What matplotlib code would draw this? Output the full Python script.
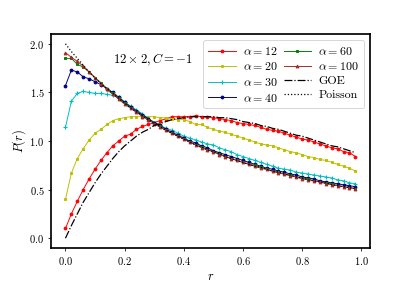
import matplotlib
matplotlib.use('Agg')
import matplotlib.pyplot as plt

plt.rcParams['font.family'] = 'serif'
plt.rcParams['font.serif'] = ['cmr10', 'DejaVu Serif']
plt.rcParams['mathtext.fontset'] = 'cm'
plt.rcParams['axes.formatter.use_mathtext'] = True
plt.rcParams['axes.unicode_minus'] = False

# r bins
r = [0.00, 0.02, 0.04, 0.06, 0.08, 0.10, 0.12, 0.14, 0.16, 0.18,
     0.20, 0.22, 0.24, 0.26, 0.28, 0.30, 0.32, 0.34, 0.36, 0.38,
     0.40, 0.42, 0.44, 0.46, 0.48, 0.50, 0.52, 0.54, 0.56, 0.58,
     0.60, 0.62, 0.64, 0.66, 0.68, 0.70, 0.72, 0.74, 0.76, 0.78,
     0.80, 0.82, 0.84, 0.86, 0.88, 0.90, 0.92, 0.94, 0.96, 0.98]

p12 = [0.10, 0.25, 0.38, 0.50, 0.61, 0.71, 0.80, 0.88, 0.95, 1.00,
       1.05, 1.07, 1.12, 1.15, 1.17, 1.19, 1.21, 1.23, 1.25, 1.25,
       1.25, 1.25, 1.26, 1.25, 1.25, 1.24, 1.23, 1.22, 1.21, 1.19,
       1.18, 1.17, 1.16, 1.14, 1.12, 1.11, 1.10, 1.08, 1.06, 1.04,
       1.02, 1.01, 0.99, 0.97, 0.95, 0.93, 0.92, 0.89, 0.88, 0.84]

p20 = [0.40, 0.67, 0.82, 0.92, 1.01, 1.08, 1.12, 1.17, 1.21, 1.23,
       1.24, 1.25, 1.25, 1.25, 1.25, 1.25, 1.24, 1.24, 1.23, 1.22,
       1.22, 1.20, 1.17, 1.17, 1.14, 1.12, 1.10, 1.09, 1.07, 1.05,
       1.03, 1.01, 0.99, 0.97, 0.96, 0.95, 0.93, 0.91, 0.89, 0.88,
       0.86, 0.84, 0.83, 0.81, 0.80, 0.78, 0.76, 0.74, 0.72, 0.69]

p30 = [1.14, 1.41, 1.49, 1.51, 1.50, 1.49, 1.49, 1.48, 1.47, 1.45,
       1.40, 1.36, 1.32, 1.28, 1.23, 1.19, 1.16, 1.13, 1.11, 1.08,
       1.05, 1.03, 1.01, 0.99, 0.97, 0.96, 0.93, 0.91, 0.89, 0.86,
       0.84, 0.82, 0.80, 0.78, 0.76, 0.74, 0.72, 0.71, 0.70, 0.68,
       0.67, 0.66, 0.65, 0.64, 0.63, 0.62, 0.60, 0.59, 0.57, 0.56]

p40 = [1.57, 1.73, 1.71, 1.66, 1.64, 1.61, 1.58, 1.54, 1.50, 1.45,
       1.40, 1.35, 1.31, 1.27, 1.23, 1.19, 1.16, 1.12, 1.09, 1.06,
       1.03, 1.00, 0.98, 0.95, 0.93, 0.90, 0.88, 0.86, 0.84, 0.82,
       0.80, 0.78, 0.76, 0.74, 0.72, 0.71, 0.69, 0.68, 0.66, 0.65,
       0.63, 0.62, 0.61, 0.59, 0.58, 0.57, 0.56, 0.55, 0.54, 0.53]

p60 = [1.85, 1.85, 1.79, 1.76, 1.71, 1.65, 1.60, 1.54, 1.49, 1.44,
       1.39, 1.34, 1.30, 1.26, 1.22, 1.18, 1.15, 1.11, 1.08, 1.05,
       1.02, 0.99, 0.96, 0.94, 0.91, 0.89, 0.87, 0.84, 0.82, 0.80,
       0.78, 0.76, 0.75, 0.73, 0.71, 0.69, 0.68, 0.66, 0.65, 0.63,
       0.62, 0.61, 0.59, 0.58, 0.57, 0.56, 0.54, 0.53, 0.52, 0.51]

p100 = [1.91, 1.86, 1.82, 1.77, 1.71, 1.65, 1.59, 1.53, 1.48, 1.43,
        1.38, 1.34, 1.30, 1.25, 1.22, 1.18, 1.14, 1.11, 1.08, 1.05,
        1.02, 0.99, 0.96, 0.93, 0.91, 0.89, 0.86, 0.84, 0.82, 0.80,
        0.78, 0.76, 0.74, 0.72, 0.71, 0.69, 0.67, 0.66, 0.64, 0.63,
        0.61, 0.60, 0.59, 0.58, 0.56, 0.55, 0.54, 0.53, 0.52, 0.51]

goe = [0.00, 0.13, 0.25, 0.37, 0.47, 0.57, 0.66, 0.74, 0.82, 0.89,
       0.95, 1.00, 1.05, 1.09, 1.12, 1.16, 1.18, 1.20, 1.22, 1.23,
       1.24, 1.25, 1.25, 1.25, 1.25, 1.25, 1.24, 1.24, 1.23, 1.22,
       1.20, 1.19, 1.18, 1.16, 1.15, 1.13, 1.12, 1.10, 1.08, 1.06,
       1.05, 1.03, 1.01, 0.99, 0.97, 0.95, 0.94, 0.92, 0.90, 0.88]

poisson = [2.00, 1.92, 1.85, 1.78, 1.71, 1.65, 1.59, 1.54, 1.49, 1.44,
           1.39, 1.34, 1.30, 1.26, 1.22, 1.18, 1.15, 1.11, 1.08, 1.05,
           1.02, 0.99, 0.96, 0.94, 0.91, 0.89, 0.87, 0.84, 0.82, 0.80,
           0.78, 0.76, 0.74, 0.73, 0.71, 0.69, 0.68, 0.66, 0.65, 0.63,
           0.62, 0.60, 0.59, 0.58, 0.57, 0.55, 0.54, 0.53, 0.52, 0.51]

yticks = [0.0, 0.5, 1.0, 1.5, 2.0]

fig = plt.figure(figsize=(6.0, 4.146), dpi=68.5)
ax = fig.add_subplot(111)
fig.subplots_adjust(left=0.124, right=0.900, bottom=0.127, top=0.880)

lw = 1.0
ax.plot(r, p12, color='r', marker='o', ms=3, lw=lw, label=r'$\alpha=12$')
ax.plot(r, p20, color='y', marker='s', ms=3, lw=lw, label=r'$\alpha=20$')
ax.plot(r, p30, color='c', marker='+', ms=5, mew=1.2, lw=lw, label=r'$\alpha=30$')
ax.plot(r, p40, color='navy', marker='o', ms=3, lw=lw, label=r'$\alpha=40$')
ax.plot(r, p60, color='g', marker='s', ms=3, lw=lw, label=r'$\alpha=60$')
ax.plot(r, p100, color='brown', marker='^', ms=3, lw=lw, label=r'$\alpha=100$')
ax.plot(r, goe, 'k-.', lw=1.3, label='GOE')
ax.plot(r, poisson, 'k:', lw=1.3, label='Poisson')

ax.text(0.16, 1.83, r'$12\times 2, C=-1$', fontsize=13.4, va='center')

ax.set_yticks(yticks)
ax.set_xlabel(r'$r$', fontsize=13)
ax.set_ylabel(r'$P(r)$', fontsize=13, labelpad=1)
ax.tick_params(labelsize=11)
for s in ax.spines.values():
    s.set_linewidth(1.8)

ax.legend(loc='upper right', ncol=2, fontsize=12.6, columnspacing=0.5,
          handlelength=2.3, labelspacing=0.3, handletextpad=0.6, borderpad=0.4)

fig.savefig('out.png', dpi=68.5)
